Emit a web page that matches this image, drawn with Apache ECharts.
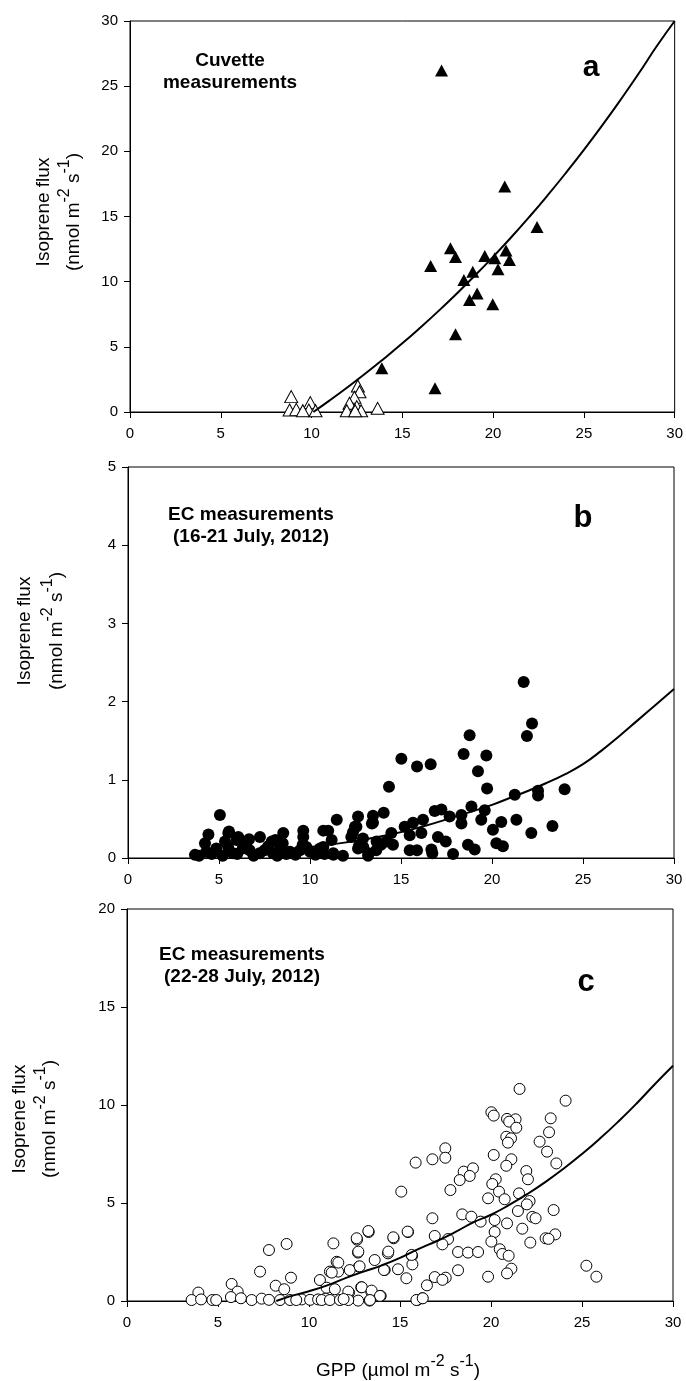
<!DOCTYPE html>
<html>
<head>
<meta charset="utf-8">
<script src="https://cdn.jsdelivr.net/npm/echarts@6/dist/echarts.min.js"></script>
<style>
html,body{margin:0;padding:0;background:#fff;}
#c{width:686px;height:1381px;}
</style>
</head>
<body>
<div id="c"></div>
<script>
// ---------- DATA ----------
const xTicks = [0, 5, 10, 15, 20, 25, 30];
const yMaxA = 30, yMaxB = 5, yMaxC = 20;

// Panel a: cuvette measurements (GPP, isoprene flux)
const aFilled = [[17.16,26.2],[20.64,17.3],[22.42,14.2],[17.65,12.56],[17.93,11.9],[19.54,11.97],[20.09,11.8],[20.71,12.4],[20.9,11.67],[16.56,11.2],[20.27,10.95],[18.88,10.77],[18.39,10.13],[19.12,9.1],[18.7,8.6],[19.98,8.26],[17.93,5.96],[13.87,3.35],[16.8,1.82]];
const aOpen = [[8.88,1.18],[8.79,0.15],[9.16,0.2],[9.93,0.72],[9.85,0.15],[10.22,0.1],[9.52,0.1],[12.55,2.0],[12.64,1.56],[12.36,1.13],[12.09,0.67],[11.94,0.1],[12.49,0.41],[12.73,0.1],[12.4,0.1],[13.64,0.28]];
const aFit = [[10.1,0],[11,0.89],[12,1.92],[13,2.99],[14,4.11],[15,5.27],[16,6.49],[17,7.76],[18,9.09],[19,10.47],[20,11.91],[21,13.41],[22,14.98],[23,16.62],[24,18.33],[25,20.11],[26,21.97],[27,23.91],[28,25.93],[29,28.04],[30,30]];

// Panel b: EC measurements 16-21 July 2012
const bPoints = [[21.74,2.25],[22.2,1.72],[21.92,1.56],[18.77,1.57],[18.44,1.33],[19.69,1.31],[15.02,1.27],[15.88,1.17],[16.63,1.2],[19.23,1.11],[14.34,0.91],[19.73,0.89],[23.99,0.88],[22.53,0.86],[22.53,0.8],[21.25,0.81],[18.87,0.66],[19.6,0.61],[17.22,0.62],[16.85,0.6],[14.05,0.58],[12.64,0.53],[13.46,0.54],[18.32,0.55],[17.67,0.53],[16.21,0.49],[20.51,0.46],[21.34,0.49],[19.41,0.49],[18.32,0.44],[15.66,0.45],[15.2,0.4],[12.55,0.4],[13.46,0.45],[20.05,0.36],[23.32,0.41],[22.16,0.32],[14.47,0.32],[16.12,0.32],[15.48,0.29],[17.03,0.27],[12.27,0.27],[12.91,0.25],[17.46,0.21],[14.56,0.17],[20.24,0.19],[20.6,0.15],[18.68,0.17],[19.05,0.11],[15.48,0.1],[15.88,0.1],[16.67,0.11],[16.72,0.06],[17.86,0.05],[13.19,0.03],[12.64,0.12],[13.64,0.1],[13.9,0.17],[11.81,0.03],
[11.47,0.49],[11.0,0.35],[11.19,0.23],[10.73,0.14],[11.28,0.04],[12.47,0.4],[12.36,0.33],[13.4,0.44],[12.93,0.14],[13.21,0.06],[12.7,0.16],[13.66,0.21],[14.2,0.21],
[5.05,0.55],[4.42,0.3],[5.51,0.32],[5.97,0.23],[6.5,0.17],[7.25,0.27],[8.53,0.32],[9.63,0.35],
[3.68,0.04],[4.3,0.08],[4.85,0.12],[5.77,0.06],[6.68,0.1],[7.23,0.06],[7.97,0.06],[8.35,0.12],[8.9,0.08],[9.45,0.1],[10.0,0.08],[10.55,0.12],[11.28,0.06],
[5.55,0.34],[6.06,0.27],[6.65,0.24],[9.63,0.27],[10.73,0.35],[4.23,0.19],[5.33,0.21],[7.9,0.21],[8.1,0.23],[8.5,0.19],[9.6,0.17],
[3.9,0.03],[4.6,0.05],[5.2,0.03],[5.5,0.14],[6.0,0.05],[6.3,0.12],[6.9,0.03],[7.5,0.1],[7.7,0.15],[8.2,0.03],[8.7,0.05],[9.2,0.04],[9.8,0.14],[10.3,0.04],[10.8,0.05]];
const bFit = [[4,0.03],[6,0.06],[8,0.1],[10,0.14],[12,0.2],[14,0.28],[16,0.39],[18,0.53],[20,0.68],[21,0.77],[22,0.86],[23,0.96],[24,1.07],[25,1.2],[26,1.37],[27,1.56],[28,1.76],[29,1.96],[30,2.16]];

// Panel c: EC measurements 22-28 July 2012
const cPoints = [[21.57,10.82],[24.1,10.22],[20.02,9.63],[20.15,9.46],[20.88,9.29],[21.35,9.27],[21.0,9.15],[21.39,8.84],[23.28,9.32],[23.19,8.61],[20.84,8.38],[21.1,8.3],[20.93,8.08],[22.67,8.13],[23.08,7.62],[23.59,7.02],[20.15,7.45],[21.12,7.23],[20.84,6.9],[17.49,7.79],[17.49,7.31],[16.78,7.23],[15.86,7.06],[18.5,6.6],[19.01,6.77],[18.83,6.38],[18.28,6.17],[21.94,6.63],[22.03,6.21],[20.26,6.21],[20.07,5.97],[20.44,5.58],[19.84,5.24],[20.75,5.19],[21.54,5.49],[22.12,5.1],[21.97,4.93],[17.77,5.66],[15.07,5.58],[23.44,4.64],[21.48,4.59],[18.42,4.42],[18.92,4.3],[22.27,4.29],[22.45,4.22],[19.43,4.05],[20.2,4.13],[20.88,3.96],[16.78,4.22],[21.72,3.69],[20.2,3.52],[23.53,3.4],[23.0,3.2],[23.16,3.17],[15.44,3.52],[13.28,3.52],[12.64,3.13],[14.65,3.2],[16.91,3.32],[17.64,3.16],[17.33,2.89],[20.02,3.03],[22.16,2.98],[20.48,2.64],[20.62,2.4],[20.97,2.31],[18.19,2.5],[18.74,2.47],[19.29,2.5],[14.34,2.43],[12.69,2.47],[13.61,2.09],[15.66,2.3],[15.68,1.87],[14.89,1.62],[14.16,1.58],[12.75,1.75],[12.24,1.58],[21.12,1.65],[20.88,1.41],[18.19,1.57],[19.84,1.24],[16.91,1.22],[17.51,1.19],[17.33,1.08],[15.35,1.16],[25.24,1.8],[25.79,1.24],[16.48,0.8],[12.87,0.7],[13.42,0.48],[13.94,0.26],[12.2,0.43],[15.95,0.05],[16.23,0.14],[13.33,0.02],[12.7,0.02],[12.15,0.1],
[7.8,2.6],[8.77,2.91],[7.31,1.5],[9.01,1.19],[10.6,1.07],[5.75,0.87],[8.17,0.78],[8.64,0.6],[6.08,0.48],[5.71,0.2],[3.92,0.43],[3.55,0.05],[4.07,0.08],[4.69,0.05],[4.9,0.05],[6.26,0.14],[6.85,0.05],[7.4,0.12],[7.8,0.06],[8.41,0.05],[8.96,0.05],[9.6,0.08],[10.06,0.06],[10.5,0.08],[10.9,0.12],
[11.34,2.94],[11.52,2.0],[11.15,1.5],[11.6,1.5],[12.62,3.2],[13.26,3.57],[12.71,2.52],[11.61,1.96],[11.25,1.45],[12.78,1.77],[14.63,3.25],[14.36,2.52],[15.42,3.54],[15.64,2.35],[14.12,1.58],[10.97,0.68],[11.42,0.6],[12.16,0.48],[12.9,0.7],[13.44,0.53],[13.9,0.26],[10.7,0.05],[11.15,0.05],[11.7,0.05],[12.16,0.05],[13.35,0.05],[15.9,0.05],[16.25,0.14],[9.3,0.05],[11.9,0.1]];
const cFit = [[8.2,0],[9,0.25],[10,0.5],[11,0.8],[12,1.17],[13,1.5],[14,1.82],[15,2.2],[16,2.65],[17,3.05],[18,3.5],[19,4.0],[20,4.4],[21,4.9],[22,5.46],[23,6.08],[24,6.76],[25,7.5],[26,8.3],[27,9.16],[28,10.08],[29,11.06],[30,12.0]];

// ---------- CHART ----------
const FONT = 'Liberation Sans, Arial, sans-serif';
const chart = echarts.init(document.getElementById('c'), null, {renderer: 'canvas'});

const grids = [
  {left: 130, top: 21, width: 546, height: 391},
  {left: 128, top: 467, width: 546, height: 391},
  {left: 127, top: 909, width: 546, height: 392}
].map(g => Object.assign(g, {show: true, borderColor: '#000', borderWidth: 1, backgroundColor: 'transparent'}));

function xAx(i) {
  return {
    type: 'value', gridIndex: i, min: 0, max: 30, interval: 5,
    axisLine: {show: true, onZero: false, lineStyle: {color: '#000', width: 1}},
    axisTick: {show: true, inside: false, length: 6, lineStyle: {color: '#000'}},
    axisLabel: {show: true, color: '#000', fontSize: 15, fontFamily: FONT, margin: 14},
    splitLine: {show: false}
  };
}
function yAx(i, max, interval) {
  return {
    type: 'value', gridIndex: i, min: 0, max: max, interval: interval,
    axisLine: {show: true, onZero: false, lineStyle: {color: '#000', width: 1}},
    axisTick: {show: true, inside: false, length: 6, lineStyle: {color: '#000'}},
    axisLabel: {show: true, color: '#000', fontSize: 15, fontFamily: FONT, margin: 12},
    splitLine: {show: false}
  };
}

function fitLine(i, data) {
  return {type: 'line', xAxisIndex: i, yAxisIndex: i, data: data, smooth: true, symbol: 'none',
    lineStyle: {color: '#000', width: 2}, z: 5, silent: true};
}

const series = [
  fitLine(0, aFit),
  {type: 'scatter', xAxisIndex: 0, yAxisIndex: 0, data: aOpen, symbol: 'triangle', symbolSize: [13, 12],
    itemStyle: {color: '#fff', borderColor: '#000', borderWidth: 1, opacity: 1}, z: 4},
  {type: 'scatter', xAxisIndex: 0, yAxisIndex: 0, data: aFilled, symbol: 'triangle', symbolSize: [13, 12],
    itemStyle: {color: '#000', opacity: 1}, z: 4},
  {type: 'scatter', xAxisIndex: 1, yAxisIndex: 1, data: bPoints, symbol: 'circle', symbolSize: 12,
    itemStyle: {color: '#000', opacity: 1}, z: 4},
  fitLine(1, bFit),
  {type: 'scatter', xAxisIndex: 2, yAxisIndex: 2, data: cPoints, symbol: 'circle', symbolSize: 11,
    itemStyle: {color: '#fff', borderColor: '#000', borderWidth: 1, opacity: 1}, z: 4},
  fitLine(2, cFit)
];

const supRich = {
  n: {fontSize: 19, fontFamily: FONT, fill: '#000', color: '#000', lineHeight: 26, verticalAlign: 'bottom'},
  s: {fontSize: 16, fontFamily: FONT, fill: '#000', color: '#000', lineHeight: 26, verticalAlign: 'top'}
};

function yTitle(x1, x2, y) {
  return [
    {type: 'text', x: x1, y: y, rotation: Math.PI / 2,
      style: {text: 'Isoprene flux', font: '19px ' + FONT, fill: '#000', align: 'center', verticalAlign: 'middle'}},
    {type: 'text', x: x2, y: y, rotation: Math.PI / 2,
      style: {text: '{n|(nmol m}{s|-2}{n| s}{s|-1}{n|)}', align: 'center', verticalAlign: 'middle', rich: supRich}}
  ];
}
function boldText(x, y, text, size) {
  return {type: 'text', x: x, y: y,
    style: {text: text, font: 'bold ' + size + 'px ' + FONT, fill: '#000', align: 'center', verticalAlign: 'middle', lineHeight: 22}};
}

const graphic = [].concat(
  yTitle(44, 70, 212),
  yTitle(25, 53, 631),
  yTitle(20, 46, 1119),
  [
    boldText(230, 72, 'Cuvette\nmeasurements', 19),
    boldText(591, 68, 'a', 30),
    boldText(251, 526, 'EC measurements\n(16-21 July, 2012)', 19),
    boldText(583, 518, 'b', 31),
    boldText(242, 966, 'EC measurements\n(22-28 July, 2012)', 19),
    boldText(586, 982, 'c', 31),
    {type: 'text', x: 398, y: 1367,
      style: {text: '{n|GPP (µmol m}{s|-2}{n| s}{s|-1}{n|)}', align: 'center', verticalAlign: 'middle', rich: supRich}}
  ]
);

chart.setOption({
  animation: false,
  backgroundColor: '#fff',
  grid: grids,
  xAxis: [xAx(0), xAx(1), xAx(2)],
  yAxis: [yAx(0, yMaxA, 5), yAx(1, yMaxB, 1), yAx(2, yMaxC, 5)],
  series: series,
  graphic: graphic
});
</script>
</body>
</html>
